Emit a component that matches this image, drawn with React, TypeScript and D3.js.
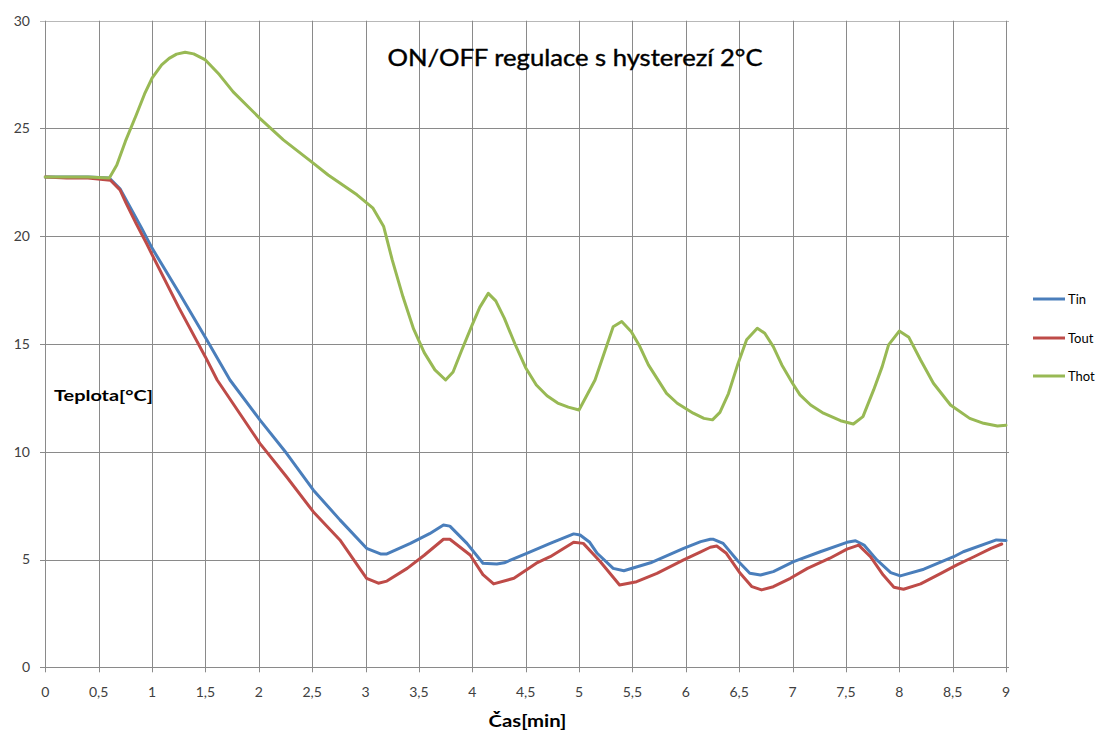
import React from "react";
import * as d3 from "d3";

const xTicks = [0, 0.5, 1, 1.5, 2, 2.5, 3, 3.5, 4, 4.5, 5, 5.5, 6, 6.5, 7, 7.5, 8, 8.5, 9];
const yTicks = [0, 5, 10, 15, 20, 25, 30];

const tinT = [0, 0.2, 0.4, 0.6, 0.7, 0.8, 0.9, 1.0, 1.25, 1.5, 1.73, 2.01, 2.26, 2.51, 2.76, 3.01, 3.14, 3.2, 3.42, 3.6, 3.73, 3.79, 3.95, 4.1, 4.23, 4.3, 4.51, 4.73, 4.95, 5.01, 5.1, 5.17, 5.32, 5.42, 5.67, 5.98, 6.14, 6.23, 6.26, 6.35, 6.48, 6.6, 6.7, 6.82, 7.01, 7.26, 7.51, 7.59, 7.67, 7.79, 7.92, 8.01, 8.23, 8.51, 8.6, 8.91, 9.0];
const tinV = [22.75, 22.75, 22.75, 22.7, 22.2, 21.3, 20.4, 19.45, 17.4, 15.3, 13.33, 11.48, 9.93, 8.23, 6.84, 5.52, 5.26, 5.26, 5.75, 6.2, 6.6, 6.55, 5.75, 4.83, 4.79, 4.85, 5.29, 5.75, 6.19, 6.14, 5.8, 5.29, 4.59, 4.48, 4.85, 5.52, 5.83, 5.94, 5.94, 5.75, 4.98, 4.36, 4.28, 4.44, 4.9, 5.36, 5.8, 5.87, 5.67, 4.98, 4.39, 4.24, 4.55, 5.13, 5.36, 5.91, 5.88];

const toutT = [0, 0.2, 0.4, 0.61, 0.7, 0.76, 0.85, 0.95, 1.0, 1.25, 1.5, 1.61, 2.01, 2.26, 2.51, 2.76, 3.01, 3.12, 3.2, 3.39, 3.55, 3.73, 3.79, 3.98, 4.1, 4.2, 4.39, 4.6, 4.73, 4.95, 5.04, 5.2, 5.38, 5.54, 5.73, 5.98, 6.14, 6.23, 6.29, 6.38, 6.51, 6.62, 6.71, 6.82, 6.98, 7.14, 7.35, 7.51, 7.62, 7.73, 7.85, 7.95, 8.04, 8.2, 8.39, 8.54, 8.7, 8.86, 8.96];
const toutV = [22.75, 22.7, 22.7, 22.6, 22.15, 21.5, 20.6, 19.65, 19.15, 16.7, 14.4, 13.33, 10.39, 8.84, 7.22, 5.91, 4.13, 3.9, 4.0, 4.59, 5.2, 5.94, 5.94, 5.21, 4.3, 3.87, 4.13, 4.83, 5.13, 5.8, 5.75, 4.9, 3.82, 3.97, 4.36, 4.98, 5.36, 5.57, 5.63, 5.29, 4.36, 3.74, 3.59, 3.74, 4.13, 4.59, 5.06, 5.48, 5.67, 5.13, 4.28, 3.71, 3.62, 3.87, 4.36, 4.75, 5.13, 5.52, 5.72];

const thotT = [0, 0.2, 0.4, 0.6, 0.67, 0.75, 0.85, 0.93, 1.0, 1.09, 1.16, 1.23, 1.31, 1.39, 1.5, 1.63, 1.76, 2.01, 2.23, 2.51, 2.65, 2.92, 3.07, 3.17, 3.25, 3.35, 3.45, 3.55, 3.65, 3.75, 3.82, 3.9, 4.0, 4.07, 4.15, 4.22, 4.3, 4.4, 4.5, 4.6, 4.7, 4.8, 4.9, 5.0, 5.05, 5.15, 5.32, 5.4, 5.49, 5.57, 5.65, 5.82, 5.92, 6.07, 6.17, 6.25, 6.32, 6.4, 6.49, 6.57, 6.67, 6.74, 6.82, 6.9, 7.0, 7.07, 7.17, 7.29, 7.45, 7.57, 7.66, 7.76, 7.84, 7.9, 8.0, 8.09, 8.2, 8.32, 8.48, 8.66, 8.79, 8.92, 9.0];
const thotV = [22.75, 22.75, 22.75, 22.7, 23.3, 24.4, 25.6, 26.6, 27.33, 27.95, 28.25, 28.45, 28.54, 28.46, 28.18, 27.5, 26.7, 25.47, 24.47, 23.39, 22.84, 21.92, 21.3, 20.45, 18.9, 17.2, 15.7, 14.6, 13.8, 13.33, 13.7, 14.7, 15.9, 16.7, 17.35, 17.0, 16.2, 15.0, 13.9, 13.1, 12.6, 12.26, 12.07, 11.94, 12.4, 13.33, 15.8, 16.04, 15.57, 14.88, 14.03, 12.71, 12.25, 11.79, 11.55, 11.48, 11.83, 12.7, 14.1, 15.2, 15.73, 15.5, 14.88, 14.03, 13.18, 12.64, 12.17, 11.79, 11.44, 11.29, 11.63, 12.87, 13.95, 14.96, 15.6, 15.31, 14.26, 13.18, 12.17, 11.55, 11.32, 11.2, 11.23];

const seriesNames = ["Tin", "Tout", "Thot"];
const seriesColors = ["#4a7ebb", "#be4b48", "#98b954"];

const W = 1102;
const H = 734;
const FONT = "Lato, 'Open Sans', sans-serif";

export default function App() {
  const x = d3.scaleLinear().domain([0, 9]).range([45.3, 1006]);
  const y = d3.scaleLinear().domain([0, 30]).range([667.3, 20.7]);
  const line = d3
    .line<[number, number]>()
    .x((d) => x(d[0]))
    .y((d) => y(d[1]));

  const series = [
    tinT.map((t, i) => [t, tinV[i]] as [number, number]),
    toutT.map((t, i) => [t, toutV[i]] as [number, number]),
    thotT.map((t, i) => [t, thotV[i]] as [number, number]),
  ];
  const grid = "#8a8a8a";
  const legendY = [299, 338, 376];

  return (
    <svg
      width={W}
      height={H}
      style={{ position: "absolute", left: 0, top: 0, background: "#fff" }}
      fontFamily={FONT}
    >
      {yTicks.map((v) => (
        <line key={"hy" + v} x1={40} x2={1009} y1={Math.round(y(v)) + 0.5} y2={Math.round(y(v)) + 0.5} stroke={v === 30 ? "#b8b8b8" : grid} strokeWidth={1} />
      ))}
      {xTicks.map((t) => (
        <line key={"vx" + t} x1={Math.round(x(t)) + 0.5} x2={Math.round(x(t)) + 0.5} y1={y(30)} y2={y(0) + 5} stroke={grid} strokeWidth={1} />
      ))}
      {yTicks.map((v) => (
        <text key={"ly" + v} x={30} y={y(v)} dy="0.35em" textAnchor="end" fontSize={14} fill="#404040">
          {v}
        </text>
      ))}
      {xTicks.map((t) => (
        <text key={"lx" + t} x={x(t)} y={697} textAnchor="middle" fontSize={14} fill="#404040">
          {String(t).replace(".", ",")}
        </text>
      ))}
      {series.map((s, i) => (
        <path key={seriesNames[i]} d={line(s) || ""} fill="none" stroke={seriesColors[i]} strokeWidth={3} strokeLinejoin="round" strokeLinecap="round" />
      ))}
      <text x={575} y={66} textAnchor="middle" fontSize={23} fill="#000" stroke="#000" strokeWidth={0.4} textLength={375} lengthAdjust="spacingAndGlyphs">
        ON/OFF regulace s hysterezí 2°C
      </text>
      <text x={54} y={401} fontSize={16} fontWeight="bold" fill="#000" textLength={99} lengthAdjust="spacingAndGlyphs">
        Teplota[°C]
      </text>
      <text x={527.5} y={727} textAnchor="middle" fontSize={17} fontWeight="bold" fill="#000" textLength={78} lengthAdjust="spacingAndGlyphs">
        Čas[min]
      </text>
      {seriesNames.map((n, i) => (
        <g key={"lg" + n}>
          <line x1={1033} x2={1065} y1={legendY[i]} y2={legendY[i]} stroke={seriesColors[i]} strokeWidth={3} />
          <text x={1068} y={legendY[i]} dy="0.35em" fontSize={13} fill="#000">
            {n}
          </text>
        </g>
      ))}
    </svg>
  );
}
